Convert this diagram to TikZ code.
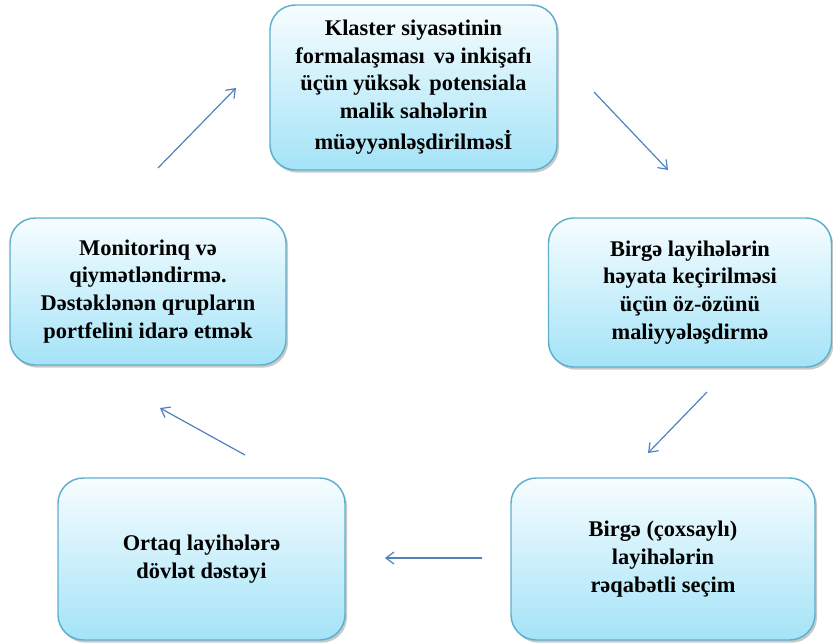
\documentclass[tikz,border=0pt]{standalone}
\usepackage{fontspec}
\setmainfont{Liberation Serif}
\usetikzlibrary{shadows,arrows.meta}
\definecolor{boxtop}{HTML}{F6FDFF}
\definecolor{boxbot}{HTML}{A4E3F7}
\definecolor{boxline}{HTML}{5FAFCB}
\definecolor{arr}{HTML}{4F81BD}
\begin{document}
\begin{tikzpicture}[x=0.75pt,y=-0.75pt,
  cbox/.style={draw=boxline, line width=1.1pt, rounded corners=19pt,
    top color=boxtop, bottom color=boxbot, align=center,
    font=\fontsize{16.8pt}{20.9pt}\selectfont\bfseries,
    drop shadow={shadow xshift=1.5pt, shadow yshift=-2pt, opacity=0.35, fill=black!60}},
  conn/.style={draw=arr, line width=0.9pt, -{Straight Barb[length=6pt,width=9pt]}}]
\useasboundingbox (0,0) rectangle (833,643);
\node[cbox, minimum width=287*0.75pt, minimum height=165*0.75pt,
  font=\fontsize{16.8pt}{20.6pt}\selectfont\bfseries] (top) at (413.5,87.5)
  {Klaster siyasətinin\\formalaşması\hspace{0.15em} və inkişafı\\üçün yüksək\hspace{0.15em} potensiala\\malik sahələrin\\[3pt]müəyyənləşdirilməsİ};
\node[cbox, minimum width=283*0.75pt, minimum height=149*0.75pt] (right) at (690,292.5)
  {Birgə layihələrin\\həyata keçirilməsi\\üçün öz-özünü\\maliyyələşdirmə};
\node[cbox, minimum width=276*0.75pt, minimum height=147*0.75pt] (left) at (148,291.5)
  {Monitorinq və\\qiymətləndirmə.\\Dəstəklənən qrupların\\portfelini idarə etmək};
\node[cbox, minimum width=304*0.75pt, minimum height=162*0.75pt] (br) at (663,559)
  {Birgə (çoxsaylı)\\layihələrin\\rəqabətli seçim};
\node[cbox, minimum width=287*0.75pt, minimum height=162*0.75pt] (bl) at (201.5,559)
  {Ortaq layihələrə\\dövlət dəstəyi};
\coordinate (a1s) at (594,92); \coordinate (a1e) at (668,170);
\coordinate (a2s) at (707,392); \coordinate (a2e) at (648,453);
\coordinate (a3s) at (482,558); \coordinate (a3e) at (385,558);
\coordinate (a4s) at (245,455); \coordinate (a4e) at (160,408);
\coordinate (a5s) at (158,168); \coordinate (a5e) at (236,88);
\draw[conn] (a1s) -- (a1e);
\draw[conn] (a2s) -- (a2e);
\draw[conn] (a3s) -- (a3e);
\draw[conn] (a4s) -- (a4e);
\draw[conn] (a5s) -- (a5e);
\end{tikzpicture}
\end{document}
